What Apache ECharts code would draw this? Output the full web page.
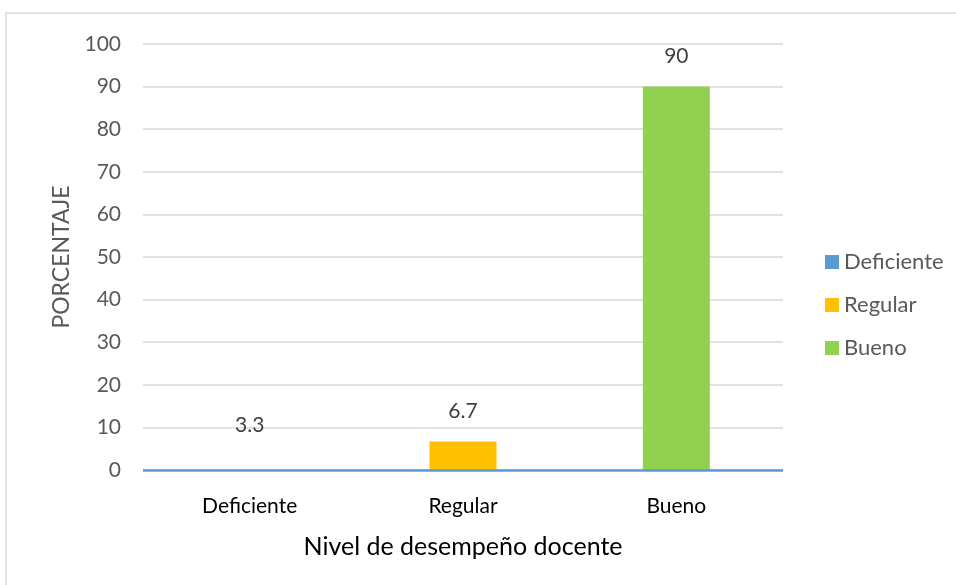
<!DOCTYPE html>
<html>
<head>
<meta charset="utf-8">
<script src="https://cdn.jsdelivr.net/npm/echarts@6/dist/echarts.min.js"></script>
<style>
  html, body { margin: 0; padding: 0; background: #fff; }
  #chart { width: 956px; height: 585px; }
</style>
</head>
<body>
<div id="chart"></div>
<script>
const categories = ['Deficiente', 'Regular', 'Bueno']
const deficiente = [3.3, null, null]
const regular = [null, 6.7, null]
const bueno = [null, null, 90]
const yTicks = { min: 0, max: 100, interval: 10 }

const FONT = 'Lato, "Open Sans", sans-serif'
const label = {
  show: true,
  position: 'top',
  distance: 20,
  color: '#404040',
  fontSize: 21,
  fontFamily: FONT
}

const chart = echarts.init(document.getElementById('chart'))
chart.setOption({
  animation: false,
  textStyle: { fontFamily: FONT },
  graphic: [{
    type: 'rect',
    shape: { x: 6, y: 13, width: 1000, height: 640 },
    style: { fill: 'none', stroke: '#d9d9d9', lineWidth: 1.5 },
    silent: true
  }],
  grid: { left: 143, right: 173, top: 44, bottom: 115 },
  legend: {
    orient: 'vertical',
    left: 820,
    top: 246,
    itemWidth: 14,
    itemHeight: 14,
    itemGap: 21,
    icon: 'rect',
    textStyle: { color: '#595959', fontSize: 22, fontFamily: FONT },
    data: [
      { name: 'Deficiente', itemStyle: { color: '#5b9bd5' } },
      'Regular',
      'Bueno'
    ]
  },
  xAxis: {
    type: 'category',
    data: categories,
    name: 'Nivel de desempeño docente',
    nameLocation: 'middle',
    nameGap: 64,
    nameTextStyle: { color: '#000', fontSize: 25, fontFamily: FONT },
    axisTick: { show: false },
    axisLine: { lineStyle: { color: '#d9d9d9', width: 1.5 } },
    axisLabel: { color: '#000', fontSize: 21, margin: 26, fontFamily: FONT }
  },
  yAxis: {
    type: 'value',
    min: yTicks.min,
    max: yTicks.max,
    interval: yTicks.interval,
    name: 'PORCENTAJE',
    nameLocation: 'middle',
    nameGap: 70,
    nameTextStyle: { color: '#595959', fontSize: 23, fontFamily: FONT },
    axisLine: { show: false },
    axisTick: { show: false },
    axisLabel: { color: '#595959', fontSize: 21, margin: 22, fontFamily: FONT },
    splitLine: { lineStyle: { color: '#d9d9d9', width: 1.5 } }
  },
  series: [
    {
      name: 'Deficiente',
      type: 'bar',
      stack: 'nivel',
      barWidth: 67,
      data: deficiente,
      itemStyle: { color: 'rgba(91,155,213,0)' },
      label: label,
      markLine: {
        silent: true,
        symbol: 'none',
        label: { show: false },
        lineStyle: { color: '#5b9bd5', width: 2.5, type: 'solid' },
        data: [{ yAxis: 0 }]
      }
    },
    {
      name: 'Regular',
      type: 'bar',
      stack: 'nivel',
      barWidth: 67,
      data: regular,
      itemStyle: { color: '#ffc000' },
      label: label,
      z: 3
    },
    {
      name: 'Bueno',
      type: 'bar',
      stack: 'nivel',
      barWidth: 67,
      data: bueno,
      itemStyle: { color: '#92d050' },
      label: label,
      z: 3
    }
  ]
})
</script>
</body>
</html>
